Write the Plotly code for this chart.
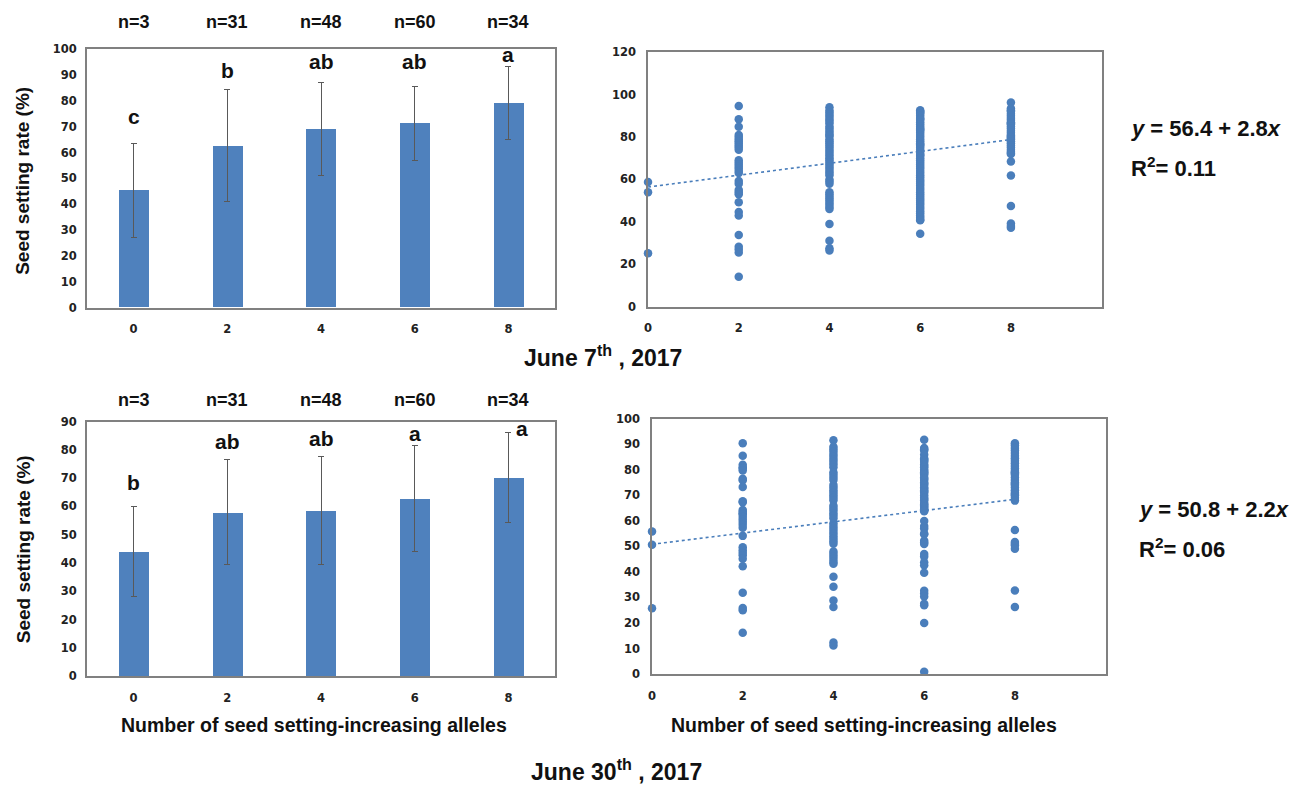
import plotly.graph_objects as go

# ---------------- data ----------------
alleles = ["0", "2", "4", "6", "8"]
n_labels = ["n=3", "n=31", "n=48", "n=60", "n=34"]

jun7_mean = [45.4, 62.6, 69.0, 71.3, 79.2]
jun7_sd = [18.2, 21.7, 18.0, 14.2, 14.3]
jun7_letters = ["c", "b", "ab", "ab", "a"]

jun30_mean = [44.1, 57.9, 58.6, 62.9, 70.2]
jun30_sd = [16.0, 18.6, 19.0, 18.7, 15.9]
jun30_letters = ["b", "ab", "ab", "a", "a"]

# individual plants, June 7th
jun7_a0 = [58.8, 53.9, 25.2]
jun7_a2 = [94.6, 88.4, 84.8, 81, 80, 79, 78, 77, 76, 75, 74, 69, 68, 67, 66, 65, 64, 63,
           59.3, 58, 55, 54, 53, 49.2, 44.6, 43, 33.8, 28.3, 27, 25.5, 14.1]
jun7_a4 = [94.0, 92.5, 91.5, 90.5, 89.5, 88.5, 87.5, 86.5, 85.0, 84.0, 83.0, 82.0, 81.0, 80.5,
           79.0, 78.0, 77.0, 76.0, 75.0, 74.0, 73.0, 72.0, 71.0, 70.0, 69.0, 68.0, 67.0, 66.0,
           65.0, 64.0, 63.0, 62.0, 60.0, 59.0, 58.0, 54.0, 53.0, 52.0, 51.0, 50.0, 49.0, 48.0,
           47.0, 46.0, 39.0, 31.1, 27.5, 26.5]
jun7_a6 = [92.6, 92.0, 91.5, 91.0, 90.0, 89.0, 88.5, 88.0, 87.0, 86.0, 85.0, 84.0, 83.5, 83.0,
           82.0, 81.0, 80.0, 79.0, 78.0, 77.0, 76.5, 76.0, 75.0, 74.0, 73.0, 72.0, 71.5, 71.0,
           70.0, 69.0, 68.0, 67.0, 66.0, 65.0, 64.0, 63.0, 62.0, 61.0, 60.0, 59.0, 58.0, 57.0,
           56.0, 55.0, 54.0, 53.0, 52.0, 51.0, 50.0, 49.0, 48.0, 47.0, 46.0, 45.0, 44.0, 43.0,
           42.0, 41.0, 40.7, 34.4]
jun7_a8 = [96.3, 93.5, 92.6, 92.0, 91.0, 90.0, 89.0, 88.0, 87.0, 86.5, 86.0, 85.0, 84.0, 83.0,
           82.0, 81.0, 80.5, 80.0, 79.5, 79.0, 78.0, 77.0, 76.0, 75.0, 74.0, 73.0, 72.5, 72.0,
           68.4, 61.9, 47.5, 39.2, 38.0, 37.2]

# individual plants, June 30th
jun30_a0 = [55.8, 50.6, 25.8]
jun30_a2 = [90.4, 85.5, 81.9, 81.0, 80.5, 79.7, 76.5, 75.9, 73.2, 67.7, 67.3, 64.2, 63.5, 63.0,
            62.5, 61.5, 60.5, 59.5, 58.5, 57.3, 54.1, 49.6, 48.5, 47.5, 46.5, 45.1, 42.2, 31.8,
            25.9, 25.0, 16.2]
jun30_a4 = [91.5, 89, 88, 87, 86, 85, 84, 83, 82, 81, 79, 78, 77, 76, 74, 73, 72, 71, 70, 69, 68,
            66, 65, 64, 63, 62, 61, 59, 58, 57, 56, 55, 54, 53, 52, 51, 48, 47, 46, 45, 44, 43.2,
            38.1, 34.2, 28.8, 26.3, 12.4, 11.2]
jun30_a6 = [91.7, 88.5, 88.0, 87.5, 86.0, 84.5, 84.0, 83.5, 83.0, 82.0, 81.5, 81.0, 80.0, 79.5,
            79.0, 78.5, 78.0, 77.0, 76.5, 76.0, 75.0, 74.5, 74.0, 73.0, 72.5, 72.0, 71.5, 71.0,
            70.0, 69.0, 68.5, 68.0, 67.0, 66.5, 66.0, 65.5, 65.0, 64.5, 64.0, 63.7, 59.9, 58.0,
            57.0, 55.0, 54.7, 52.2, 51.5, 50.9, 47.0, 46.0, 43.8, 42.6, 39.7, 32.6, 31.5, 30.4,
            27.5, 26.9, 20.0, 0.9]
jun30_a8 = [90.4, 89.5, 88.5, 87.5, 86.5, 85.5, 84.5, 83.5, 82.5, 81.5, 80.5, 79.5, 79.0, 78.5,
            78.0, 77.0, 76.0, 75.0, 74.5, 74.0, 73.0, 72.0, 71.0, 70.5, 70.0, 69.0, 67.9, 56.4,
            51.7, 50.9, 50.3, 49.1, 32.7, 26.3]

jun7_fit = (56.4, 2.8, "0.11")
jun30_fit = (50.8, 2.2, "0.06")

# ---------------- style ----------------
W, H = 1310, 796
BAR = "#4F81BD"
DOT = "#4A7EBB"
FRAME = "#808080"
TXT = "Liberation Sans, Arial, sans-serif"
TICK = dict(family="DejaVu Sans, Verdana, sans-serif", size=11.5, color="#222", weight=700)


def px(x):
    return x / W


def py(y):
    return 1 - y / H


fig = go.Figure()


def add_bars(mean, sd, xa, ya):
    fig.add_trace(go.Bar(
        x=alleles, y=mean, width=0.32, marker=dict(color=BAR, line=dict(width=0)),
        error_y=dict(type="data", array=sd, color="#595959", thickness=1, width=3),
        xaxis=xa, yaxis=ya, showlegend=False))


def add_scatter(groups, fit, xa, ya):
    for xv, vals in groups:
        fig.add_trace(go.Scatter(
            x=[xv] * len(vals), y=vals, mode="markers", cliponaxis=False,
            marker=dict(size=8.5, color=DOT), xaxis=xa, yaxis=ya, showlegend=False))
    a, b, _ = fit
    fig.add_trace(go.Scatter(
        x=[0, 8], y=[a, a + 8 * b], mode="lines",
        line=dict(color=DOT, width=1.6, dash="dot"),
        xaxis=xa, yaxis=ya, showlegend=False))


add_bars(jun7_mean, jun7_sd, "x", "y")
add_scatter([(0, jun7_a0), (2, jun7_a2), (4, jun7_a4), (6, jun7_a6), (8, jun7_a8)],
            jun7_fit, "x2", "y2")
add_bars(jun30_mean, jun30_sd, "x3", "y3")
add_scatter([(0, jun30_a0), (2, jun30_a2), (4, jun30_a4), (6, jun30_a6), (8, jun30_a8)],
            jun30_fit, "x4", "y4")

frame = dict(showline=True, mirror=True, linecolor=FRAME, linewidth=1.5,
             showgrid=False, zeroline=False, ticks="", tickfont=TICK)

layout = dict(
    width=W, height=H, margin=dict(l=0, r=0, t=0, b=0),
    paper_bgcolor="white", plot_bgcolor="white", bargap=0,
    xaxis=dict(domain=[px(83), px(553)], anchor="y", type="category", range=[-0.5, 4.5],
               ticklabelstandoff=10, **frame),
    yaxis=dict(domain=[py(306), py(43)], anchor="x", range=[0, 100], dtick=10,
               ticklabelstandoff=6, **frame),
    xaxis2=dict(domain=[px(646), px(1101)], anchor="y2", range=[0, 10],
                tickvals=[0, 2, 4, 6, 8], ticklabelstandoff=10, **frame),
    yaxis2=dict(domain=[py(305), py(46)], anchor="x2", range=[0, 120], dtick=20,
                ticklabelstandoff=8, **frame),
    xaxis3=dict(domain=[px(83), px(553)], anchor="y3", type="category", range=[-0.5, 4.5],
                ticklabelstandoff=10, **frame),
    yaxis3=dict(domain=[py(681), py(422)], anchor="x3", range=[0, 90], dtick=10,
                ticklabelstandoff=6, **frame),
    xaxis4=dict(domain=[px(650), px(1105)], anchor="y4", range=[0, 10],
                tickvals=[0, 2, 4, 6, 8], ticklabelstandoff=10, **frame),
    yaxis4=dict(domain=[py(679), py(419)], anchor="x4", range=[0, 100], dtick=10,
                ticklabelstandoff=8, **frame),
)
fig.update_layout(**layout)

ann = []
C = dict(showarrow=False, xanchor="center", yanchor="middle")
bold18 = dict(family=TXT, size=18, color="#111", weight=700)
letter_font = dict(family=TXT, size=21, color="#111", weight=700)

# n labels
for i, lab in enumerate(n_labels):
    ann.append(dict(x=i, xref="x", y=py(15), yref="paper", text=lab, font=bold18, **C))
    ann.append(dict(x=i, xref="x3", y=py(400), yref="paper", text=lab, font=bold18, **C))

# significance letters
top_shift = [27, 19, 21, 25, 12]
bot_shift = [24, 18, 18, 12, 4]
bot_xshift = [0, 0, 0, 0, 14]
for i in range(len(alleles)):
    ann.append(dict(x=i, xref="x", y=jun7_mean[i] + jun7_sd[i], yref="y",
                    text=jun7_letters[i], yshift=top_shift[i], font=letter_font, **C))
    ann.append(dict(x=i, xref="x3", y=jun30_mean[i] + jun30_sd[i], yref="y3",
                    text=jun30_letters[i], yshift=bot_shift[i], xshift=bot_xshift[i],
                    font=letter_font, **C))

# axis titles
for yc in (177, 552):
    ann.append(dict(x=px(19), y=py(yc), xref="paper", yref="paper",
                    text="Seed setting rate (%)", textangle=-90,
                    font=dict(family=TXT, size=19, color="#111", weight=700), **C))
for xc in (311, 863):
    ann.append(dict(x=px(xc), y=py(731), xref="paper", yref="paper",
                    text="Number of seed setting-increasing alleles",
                    font=dict(family=TXT, size=19.5, color="#111", weight=700), **C))

# dates
date_font = dict(family=TXT, size=23, color="#111", weight=700)
ann.append(dict(x=px(601), y=py(355), xref="paper", yref="paper",
                text="June 7<sup>th</sup> , 2017", font=date_font, **C))
ann.append(dict(x=px(614), y=py(777), xref="paper", yref="paper",
                text="June 30<sup>th</sup> , 2017", font=date_font, **C))

# regression equations
eq_font = dict(family=TXT, size=22, color="#111", weight=700)
for fit, xl, y1, y2 in ((jun7_fit, 1128, 124, 163), (jun30_fit, 1136, 512, 551)):
    a, b, r2 = fit
    ann.append(dict(x=px(xl), y=py(y1), xref="paper", yref="paper", xanchor="left",
                    yanchor="middle", showarrow=False,
                    text=f"<i>y</i> = {a} + {b}<i>x</i>", font=eq_font))
    ann.append(dict(x=px(xl), y=py(y2), xref="paper", yref="paper", xanchor="left",
                    yanchor="middle", showarrow=False,
                    text=f"R<sup>2</sup>= {r2}", font=eq_font))

fig.update_layout(annotations=ann)
fig.write_html("out.html", config={"displayModeBar": False},
               post_script="document.body.style.margin='0';")
